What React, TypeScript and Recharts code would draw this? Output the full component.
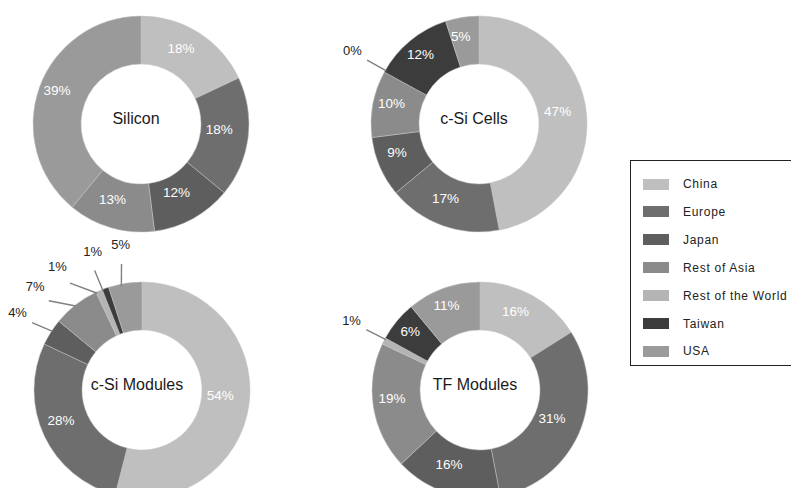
import React from "react";
import { PieChart, Pie, Cell } from "recharts";

// regions, in legend order
const categories = [
  "China",
  "Europe",
  "Japan",
  "Rest of Asia",
  "Rest of the World",
  "Taiwan",
  "USA",
];
const colors = ["#bfbfbf", "#6e6e6e", "#5e5e5e", "#8b8b8b", "#b4b4b4", "#3c3c3c", "#9a9a9a"];

// shares in %
const siliconValues = [18, 18, 12, 13, 0, 0, 39];
const cellValues = [47, 17, 9, 10, 0, 12, 5];
const moduleValues = [54, 28, 4, 7, 1, 1, 5];
const tfValues = [16, 31, 16, 19, 1, 6, 11];

const titles = ["Silicon", "c-Si Cells", "c-Si Modules", "TF Modules"];

const R_OUT = 108;
const R_IN = 60;
const FONT = "'Liberation Sans', Arial, sans-serif";

const charts = [
  { title: titles[0], values: siliconValues, cx: 136, cy: 119, outsideBelow: 2, hideZero: true },
  { title: titles[1], values: cellValues, cx: 474, cy: 119, outsideBelow: 2, hideZero: false },
  { title: titles[2], values: moduleValues, cx: 137, cy: 385, outsideBelow: 8, hideZero: false },
  { title: titles[3], values: tfValues, cx: 475, cy: 385, outsideBelow: 2, hideZero: false },
];

// mid angles (deg, clockwise from 12 o'clock) and spread-out angles for outside labels
function labelAngles(values: number[], outsideBelow: number, hideZero: boolean) {
  const total = values.reduce((a, b) => a + b, 0);
  let acc = 0;
  const mids = values.map((v) => {
    const m = ((acc + v / 2) / total) * 360;
    acc += v;
    return m;
  });
  const outside = values
    .map((v, i) => i)
    .filter((i) => values[i] < outsideBelow && !(hideZero && values[i] === 0));
  const adjusted = [...mids];
  if (outside.length > 1) {
    const lo = mids[outside[0]];
    const hi = mids[outside[outside.length - 1]];
    const range = Math.max(hi - lo, 13 * (outside.length - 1));
    const start = (lo + hi) / 2 - range / 2;
    outside.forEach((i, k) => {
      adjusted[i] = start + (range / (outside.length - 1)) * k;
    });
  }
  return { mids, adjusted, outside };
}

const polar = (cx: number, cy: number, r: number, deg: number) => {
  const a = (deg * Math.PI) / 180;
  return { x: cx + r * Math.sin(a), y: cy - r * Math.cos(a) };
};

function makeLabel(chart: (typeof charts)[number]) {
  const { mids, adjusted, outside } = labelAngles(chart.values, chart.outsideBelow, chart.hideZero);
  return (props: any) => {
    const i = props.index;
    const v = chart.values[i];
    if (chart.hideZero && v === 0) return null;
    const { cx, cy } = chart;
    if (outside.includes(i)) {
      const p0 = polar(cx, cy, R_OUT - 8, mids[i]);
      const p1 = polar(cx, cy, R_OUT + 14, adjusted[i]);
      const pt = polar(cx, cy, R_OUT + 20, adjusted[i]);
      const s = Math.sin((adjusted[i] * Math.PI) / 180);
      const c = Math.cos((adjusted[i] * Math.PI) / 180);
      const anchor = s < -0.35 ? "end" : s > 0.35 ? "start" : "middle";
      return (
        <g key={`lbl-${i}`}>
          <line x1={p0.x} y1={p0.y} x2={p1.x} y2={p1.y} stroke="#808080" strokeWidth={1.4} />
          <text
            x={pt.x}
            y={pt.y - c * 14}
            textAnchor={anchor}
            dominantBaseline="central"
            fontSize={13}
            fontFamily={FONT}
            fill="#222"
          >
            {`${v}%`}
          </text>
        </g>
      );
    }
    const p = polar(cx, cy, (R_IN + R_OUT) / 2, mids[i]);
    return (
      <text
        key={`lbl-${i}`}
        x={p.x}
        y={p.y}
        textAnchor="middle"
        dominantBaseline="central"
        fontSize={13.5}
        fontFamily={FONT}
        fill="#fff"
      >
        {`${v}%`}
      </text>
    );
  };
}

export default function App() {
  return (
    <div
      style={{
        position: "absolute",
        left: 0,
        top: 0,
        width: 791,
        height: 488,
        overflow: "hidden",
        background: "#fff",
        fontFamily: FONT,
      }}
    >
      <PieChart width={791} height={488}>
        {charts.map((ch, k) => (
          <Pie
            key={ch.title}
            data={categories.map((name, i) => ({ name, value: ch.values[i] }))}
            dataKey="value"
            nameKey="name"
            cx={ch.cx}
            cy={ch.cy}
            innerRadius={R_IN}
            outerRadius={R_OUT}
            startAngle={90}
            endAngle={-270}
            stroke="#c4c4c4"
            strokeWidth={0.5}
            label={makeLabel(ch)}
            labelLine={false}
            isAnimationActive={false}
          >
            {categories.map((c, i) => (
              <Cell key={`${k}-${c}`} fill={colors[i]} />
            ))}
          </Pie>
        ))}
      </PieChart>

      {charts.map((ch) => (
        <div
          key={`t-${ch.title}`}
          style={{
            position: "absolute",
            left: ch.cx - 60,
            top: ch.cy - 10,
            width: 120,
            textAlign: "center",
            fontSize: 16,
            lineHeight: "20px",
            color: "#1a1a1a",
          }}
        >
          {ch.title}
        </div>
      ))}

      {/* legend */}
      <div
        style={{
          position: "absolute",
          left: 630,
          top: 160,
          width: 190,
          height: 206,
          border: "1px solid #222",
          boxSizing: "border-box",
        }}
      >
        {categories.map((c, i) => (
          <div
            key={c}
            style={{
              position: "absolute",
              left: 12,
              top: 16 + i * 27.9,
              display: "flex",
              alignItems: "center",
              height: 14,
            }}
          >
            <span
              style={{
                display: "inline-block",
                width: 26,
                height: 11,
                background: colors[i],
                marginRight: 14,
              }}
            />
            <span style={{ fontSize: 12, letterSpacing: 0.7, color: "#222", whiteSpace: "nowrap" }}>
              {c}
            </span>
          </div>
        ))}
      </div>
    </div>
  );
}
